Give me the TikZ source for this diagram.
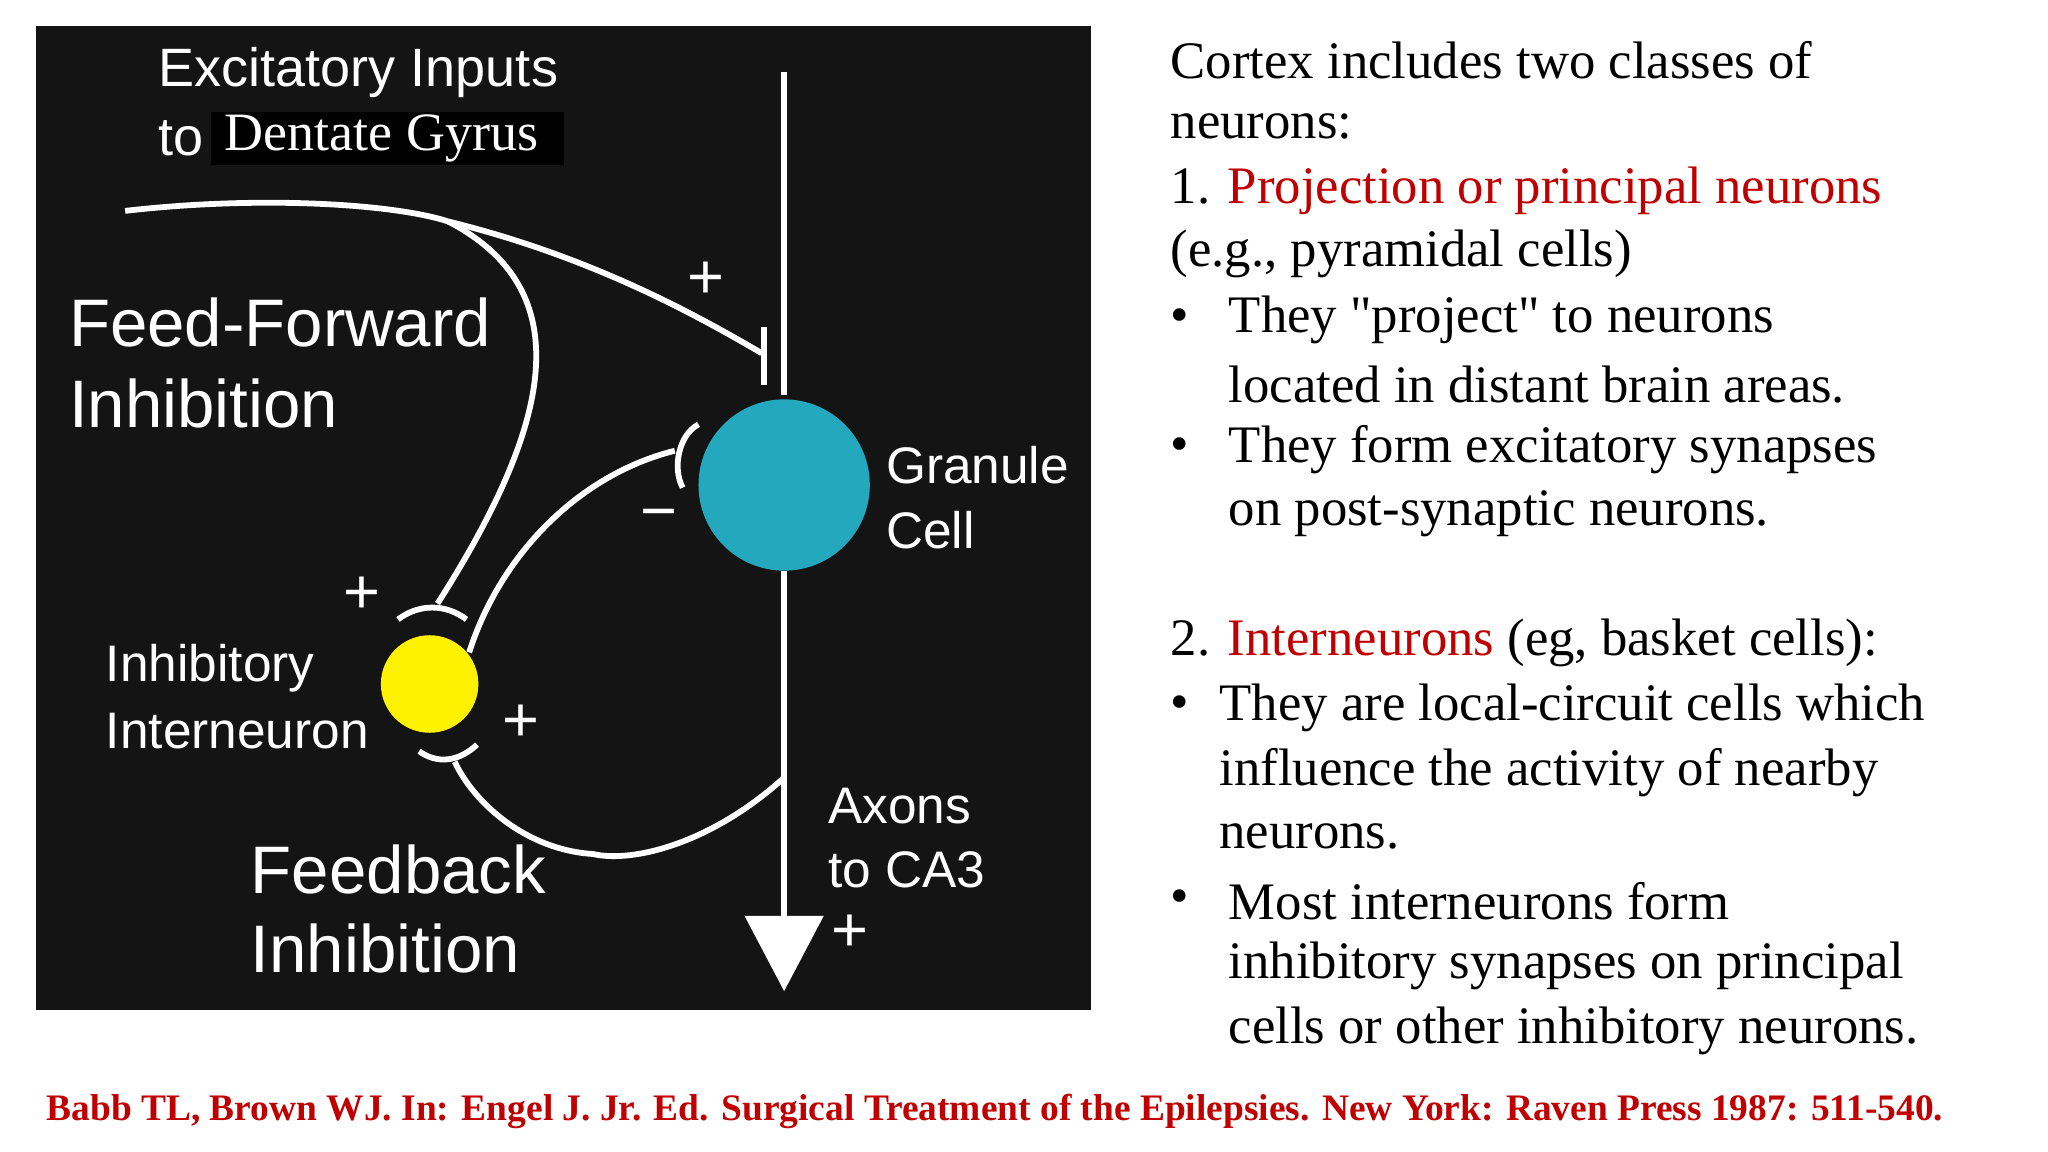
\documentclass[tikz,border=0pt]{standalone}
\usepackage{fontspec}
\setmainfont{Liberation Serif}[Ligatures=TeXOff]
\setsansfont{Liberation Sans}
\begin{document}
\begin{tikzpicture}[x=0.5pt,y=-0.5pt,
  wl/.style={white,line width=2.2pt},
  lab/.style={white,font=\sffamily\fontsize{19.5}{22}\selectfont,anchor=west,inner sep=0},
  big/.style={white,font=\sffamily\fontsize{25.5}{28}\selectfont,anchor=west,inner sep=0},
  sign/.style={white,font=\sffamily\fontsize{24}{28}\selectfont,inner sep=0},
  rt/.style={anchor=west,inner sep=0,font=\fontsize{20}{22}\selectfont}]
\definecolor{teal}{RGB}{36,168,190}
\definecolor{rd}{RGB}{192,0,0}
\useasboundingbox (0,0) rectangle (1554,874);
\fill[black!92] (27,20) rectangle (828,766);
% granule cell
\node[circle,fill=teal,minimum size=65pt,inner sep=0] (gc) at (595,368) {};
\coordinate (top) at (595,55);
\draw[wl] (top) -- (595,300);
\coordinate (ax) at (595,700);
\draw[wl] (595,433) -- (ax);
\fill[white] (565,695) -- (625,695) -- (595,752) -- cycle;
% feed-forward input
\coordinate (in) at (95,160);
\coordinate (br) at (340,168);
\draw[wl] (in) .. controls (200,148) and (300,155) .. (br) .. controls (450,195) and (530,240) .. (578,268);
\draw[wl] (580,248) -- (580,292);
% interneuron
\node[circle,fill=yellow,minimum size=37pt,inner sep=0] (in2) at (326,519) {};
\draw[wl] (br) .. controls (440,220) and (420,320) .. (332,458);
\draw[wl] (302,470) .. controls (318,458) and (338,458) .. (354,470);
\draw[wl] (318,570) .. controls (332,580) and (348,578) .. (362,565);
% feedback
\draw[wl] (595,590) .. controls (540,640) and (480,655) .. (450,648) .. controls (400,645) and (360,610) .. (345,578);
% inhibitory to granule
\draw[wl] (356,495) .. controls (380,420) and (440,360) .. (512,342);
\draw[wl] (530,322) .. controls (515,330) and (510,355) .. (518,370);
% signs
\node[sign] (s1) at (536,213) {+};
\node[sign] (s2) at (275,452) {+};
\node[sign] (s3) at (395,549) {+};
\node[sign] (s4) at (500,395) {−};
\node[sign] (s5) at (645,708) {+};
% labels
\node[lab,font=\sffamily\fontsize{20.5}{22}\selectfont] (l1) at (120,55) {Excitatory Inputs};
\node[lab,font=\sffamily\fontsize{20.5}{22}\selectfont] (l2) at (120,105) {to};
\fill[black] (160,85) rectangle (428,125);
\node[white,font=\fontsize{20.5}{22}\selectfont,anchor=west,inner sep=0] (l3) at (170,105) {Dentate Gyrus};
\node[big] (l4) at (52,245) {Feed-Forward};
\node[big] (l5) at (52,306) {Inhibition};
\node[lab] (l6) at (672,353) {Granule};
\node[lab] (l7) at (672,402) {Cell};
\node[lab] (l8) at (80,507) {Inhibitory};
\node[lab] (l9) at (80,555) {Interneuron};
\node[big] (l10) at (190,660) {Feedback};
\node[big] (l11) at (190,720) {Inhibition};
\node[lab] (l12) at (628,612) {Axons};
\node[lab] (l13) at (628,660) {to CA3};
% right text
\node[rt] (r1) at (888,46) {Cortex includes two classes of};
\node[rt] (r2) at (888,96) {neurons:};
\node[rt] (r3) at (888,145) {1. \textcolor{rd}{Projection or principal neurons}};
\node[rt] (r4) at (888,193) {(e.g., pyramidal cells)};
\node[rt] (b1) at (888,243) {•};
\node[rt] (r5) at (932,243) {They "project" to neurons};
\node[rt] (r6) at (932,292) {located in distant brain areas.};
\node[rt] (b2) at (888,341) {•};
\node[rt] (r7) at (932,341) {They form excitatory synapses};
\node[rt] (r8) at (932,390) {on post-synaptic neurons.};
\node[rt] (r9) at (888,488) {2. \textcolor{rd}{Interneurons} (eg, basket cells):};
\node[rt] (b3) at (888,537) {•};
\node[rt] (r10) at (925,537) {They are local-circuit cells which};
\node[rt] (r11) at (925,586) {influence the activity of nearby};
\node[rt] (r12) at (925,635) {neurons.};
\node[rt] (b4) at (888,684) {•};
\node[rt] (r13) at (932,684) {Most interneurons form};
\node[rt] (r14) at (932,733) {inhibitory synapses on principal};
\node[rt] (r15) at (932,782) {cells or other inhibitory neurons.};
\node[anchor=west,inner sep=0,text=rd,font=\bfseries\fontsize{14.2}{16}\selectfont] (cit) at (35,843) {Babb TL, Brown WJ. In: Engel J. Jr. Ed. Surgical Treatment of the Epilepsies. New York: Raven Press 1987: 511-540.};
\end{tikzpicture}
\end{document}
